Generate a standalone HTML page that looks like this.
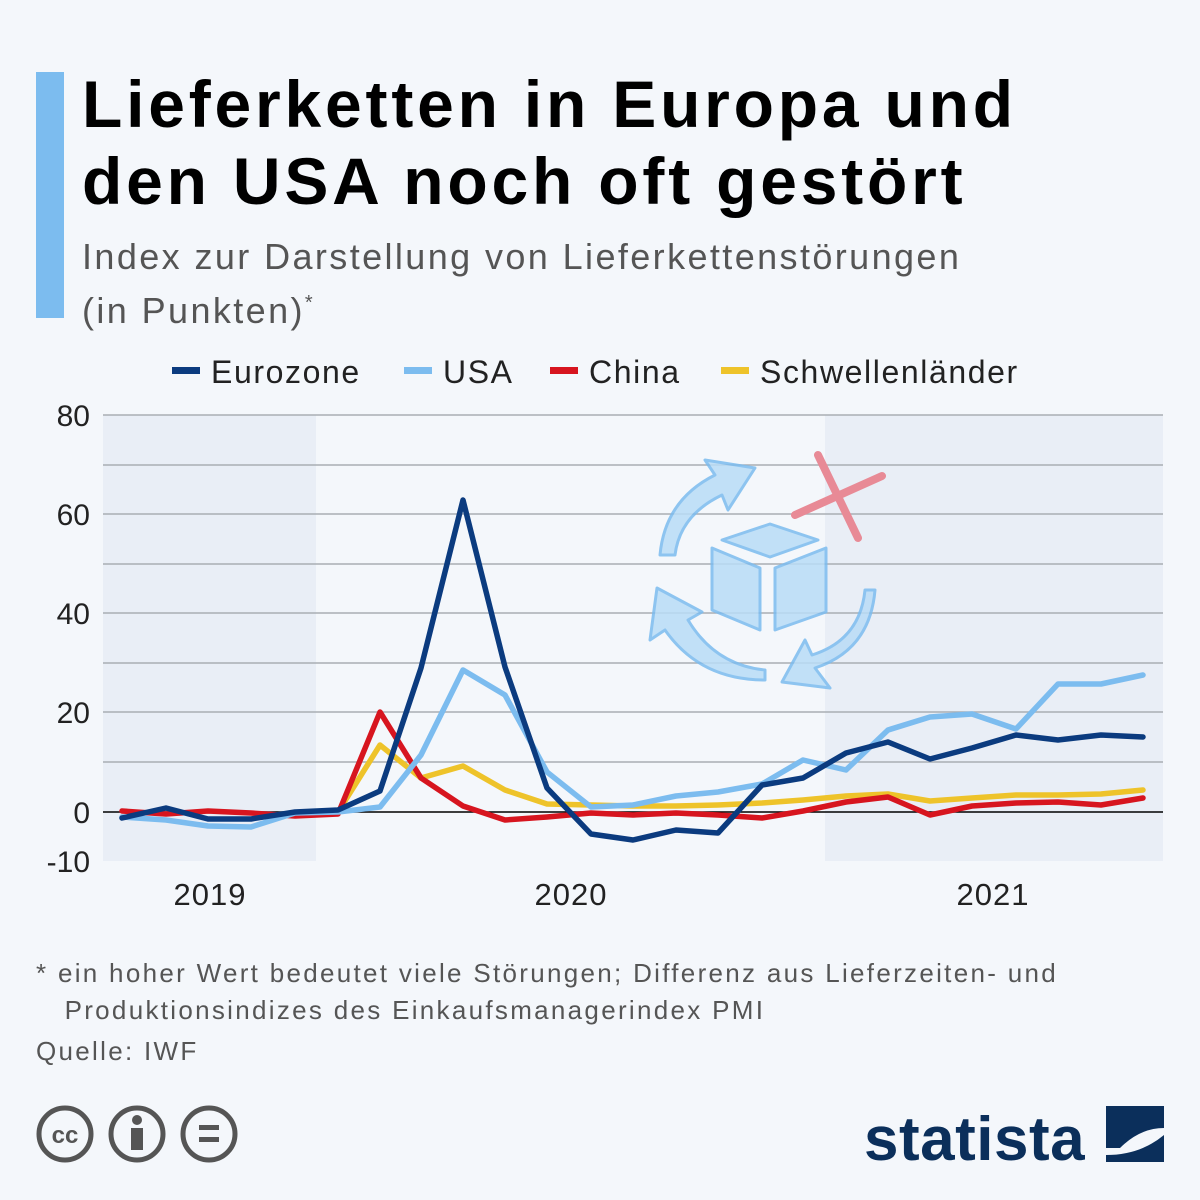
<!DOCTYPE html>
<html><head><meta charset="utf-8"><style>
body{margin:0;width:1200px;height:1200px;background:#f4f7fb;font-family:"Liberation Sans","DejaVu Sans",sans-serif;overflow:hidden;position:relative}
.t{position:absolute;left:82px;top:66px;font-size:66px;font-weight:bold;line-height:77px;color:#000;letter-spacing:3.8px;white-space:nowrap}
.bar{position:absolute;left:36px;top:72px;width:28px;height:246px;background:#7cbcef}
.s{position:absolute;left:82px;top:234px;font-size:36px;color:#555;line-height:46px;letter-spacing:2.4px;white-space:nowrap}
.fn{position:absolute;left:36px;top:955px;font-size:26px;color:#555;line-height:37px;letter-spacing:2.3px;white-space:nowrap}
</style></head><body>
<div class="bar"></div>
<div class="t">Lieferketten in Europa und<br>den USA noch oft gestört</div>
<div class="s">Index zur Darstellung von Lieferkettenstörungen<br>(in Punkten)<span style="font-size:20px;vertical-align:14px;letter-spacing:0">*</span></div>
<svg width="1200" height="1200" style="position:absolute;left:0;top:0" font-family="Liberation Sans, sans-serif">
<rect x="103" y="415" width="213" height="446" fill="#e9eef6"/>
<rect x="825" y="415" width="338" height="446" fill="#e9eef6"/>
<g stroke="#a9adb3" stroke-width="1.5">
<line x1="103" x2="1163" y1="415" y2="415"/><line x1="103" x2="1163" y1="465" y2="465"/>
<line x1="103" x2="1163" y1="514" y2="514"/><line x1="103" x2="1163" y1="564" y2="564"/>
<line x1="103" x2="1163" y1="613" y2="613"/><line x1="103" x2="1163" y1="663" y2="663"/>
<line x1="103" x2="1163" y1="712" y2="712"/><line x1="103" x2="1163" y1="762" y2="762"/>
</g>
<line x1="103" x2="1163" y1="812" y2="812" stroke="#000" stroke-width="1.5"/>
<g font-size="30" fill="#222" text-anchor="end">
<text x="90" y="426">80</text><text x="90" y="525">60</text><text x="90" y="624">40</text>
<text x="90" y="723">20</text><text x="90" y="823">0</text><text x="90" y="872">-10</text>
</g>
<g font-size="31" fill="#222" text-anchor="middle" letter-spacing="1">
<text x="210" y="905">2019</text><text x="571" y="905">2020</text><text x="993" y="905">2021</text>
</g>
<g font-size="32" fill="#222" letter-spacing="1.6">
<rect x="172" y="367" width="28" height="7" fill="#0b3b7f"/><text x="211" y="383">Eurozone</text>
<rect x="404" y="367" width="28" height="7" fill="#7cbcef"/><text x="443" y="383">USA</text>
<rect x="550" y="367" width="28" height="7" fill="#d7151f"/><text x="589" y="383">China</text>
<rect x="721" y="367" width="28" height="7" fill="#eec32a"/><text x="760" y="383">Schwellenländer</text>
</g>
<g opacity="0.85" stroke="#7cbcef" stroke-width="3" fill="#b9dcf7" stroke-linejoin="round">
<path d="M660 555 Q665 500 715 475 L705 460 L755 468 L728 510 L722 495 Q680 515 675 555 Z"/>
<path d="M875 590 Q870 650 815 668 L830 688 L782 682 L805 640 L812 655 Q860 640 865 590 Z"/>
<path d="M765 680 Q700 680 665 630 L650 640 L657 588 L702 612 L688 620 Q715 665 765 670 Z"/>
<path d="M712 548 L760 568 L760 630 L712 610 Z"/><path d="M775 568 L826 548 L826 612 L775 630 Z"/>
<path d="M722 540 L770 524 L818 540 L770 557 Z"/>
</g>
<g stroke="#e88a96" stroke-width="8" stroke-linecap="round"><line x1="818" y1="455" x2="858" y2="538"/><line x1="795" y1="515" x2="882" y2="476"/></g>
<g fill="none" stroke-width="5.5" stroke-linejoin="round" stroke-linecap="round">
<polyline stroke="#eec32a" points="338,812 380,745 421,778 463,766 505,790 547,804 591,805 633,806 676,806 718,805 762,803 803,800 846,796 888,794 930,801 972,798 1016,795 1058,795 1101,794 1143,790"/>
<polyline stroke="#d7151f" points="122,811 166,814 208,811 251,813 295,816 338,814 380,712 421,778 463,806 505,820 547,817 591,813 633,815 676,813 718,815 762,818 803,811 846,802 888,797 930,815 972,806 1016,803 1058,802 1101,805 1143,798"/>
<polyline stroke="#7cbcef" points="122,817 166,820 208,826 251,827 295,813 338,812 380,807 421,755 463,670 505,695 547,772 591,807 633,805 676,796 718,792 762,784 803,760 846,770 888,730 930,717 972,714 1016,729 1058,684 1101,684 1143,675"/>
<polyline stroke="#0b3b7f" points="122,818 166,808 208,819 251,819 295,812 338,810 380,791 421,668 463,500 505,667 547,788 591,834 633,840 676,830 718,833 762,785 803,778 846,753 888,742 930,759 972,748 1016,735 1058,740 1101,735 1143,737"/>
</g>
<g fill="none" stroke="#555" stroke-width="5">
<circle cx="65" cy="1134" r="26"/><circle cx="137" cy="1134" r="26"/><circle cx="209" cy="1134" r="26"/>
</g>
<text x="65" y="1143" font-size="24" font-weight="bold" fill="#555" text-anchor="middle">cc</text>
<circle cx="137" cy="1120" r="5" fill="#555"/><rect x="131" y="1128" width="12" height="22" fill="#555"/>
<rect x="199" y="1125" width="20" height="5" fill="#555"/><rect x="199" y="1137" width="20" height="5" fill="#555"/>
<text x="864" y="1160" font-size="62" font-weight="bold" fill="#0b2f5b" letter-spacing="0.5">statista</text>
<path d="M1106 1106 H1164 V1128 Q1140 1128 1120 1148 H1106 Z" fill="#0b2f5b"/>
<path d="M1164 1135 V1162 H1106 V1155 Q1140 1155 1164 1135 Z" fill="#0b2f5b"/>
</svg>
<div class="fn">* ein hoher Wert bedeutet viele Störungen; Differenz aus Lieferzeiten- und<br>&nbsp;&nbsp;&nbsp;Produktionsindizes des Einkaufsmanagerindex PMI<br><span style="position:relative;top:4px">Quelle: IWF</span></div>
</body></html>
